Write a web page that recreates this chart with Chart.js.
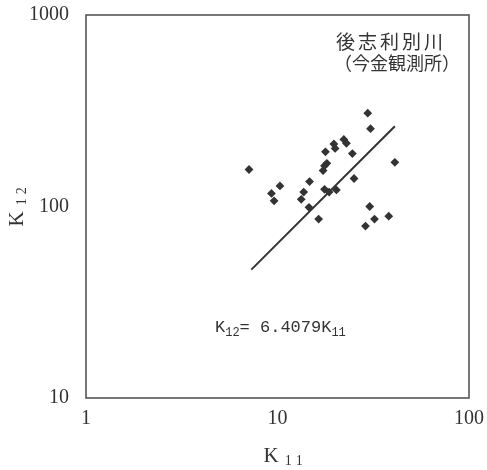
<!DOCTYPE html>
<html>
<head>
<meta charset="utf-8">
<script src="https://cdn.jsdelivr.net/npm/chart.js@4.4.1/dist/chart.umd.min.js"></script>
<style>
html,body{margin:0;padding:0;background:#fff;}
#wrap{width:487px;height:470px;}
</style>
</head>
<body>
<div id="wrap"><canvas id="c"></canvas></div>
<script>
// ===== DATA =====
const k11 = [7.1,17.8,19.7,20.0,22.2,22.9,24.6,18.1,17.6,17.3,14.7,25.1,10.3,9.3,9.6,13.7,13.3,17.6,18.6,20.3,14.6,16.4,29.6,30.6,41.0,30.3,38.1,32.1,28.8];
const k12 = [156,193,212,201,224,214,189,168,163,154,135,140,128,117,107,119,109,123,119,122,99,86,307,255,170,100,89,86,79];
const fitK11 = [7.3, 41];
const fitK12 = [46.8, 262.7];
const xTicks = [1, 10, 100];
const yTicks = [10, 100, 1000];
const stationName = ["後志利別川", "（今金観測所）"];
const equation = ["K", "12", "= 6.4079K", "11"];

const ink = "#333";
const serif = "'Liberation Serif', 'Times New Roman', serif";

/* ================= EXTRA DRAWING ================= */
const extras = {
id: "extras",
afterDraw(chart){
const ctx = chart.ctx;
const a = chart.chartArea;
ctx.save();

// frame
ctx.strokeStyle = "#555";
ctx.lineWidth = 1.6;
ctx.strokeRect(a.left, a.top, a.right - a.left, a.bottom - a.top);

// station name
ctx.fillStyle = ink;
ctx.textAlign = "center";
ctx.textBaseline = "middle";
ctx.font = "19px 'Noto Sans CJK JP'";
ctx.letterSpacing = "3px";
ctx.fillText(stationName[0], a.right - 78, a.top + 27);
ctx.letterSpacing = "0px";
ctx.font = "18px 'Noto Sans CJK JP'";
ctx.fillText(stationName[1], a.right - 72, a.top + 48);

// equation
ctx.textAlign = "left";
ctx.textBaseline = "alphabetic";
let ex = a.left + 129, ey = a.top + 317;
ctx.font = "17px 'Liberation Mono', monospace";
ctx.fillText(equation[0], ex, ey); ex += ctx.measureText(equation[0]).width;
ctx.font = "12px 'Liberation Mono', monospace";
ctx.fillText(equation[1], ex, ey + 4); ex += ctx.measureText(equation[1]).width;
ctx.font = "17px 'Liberation Mono', monospace";
ctx.fillText(equation[2], ex, ey); ex += ctx.measureText(equation[2]).width;
ctx.font = "12px 'Liberation Mono', monospace";
ctx.fillText(equation[3], ex, ey + 4);

// axis titles
function kTitle(sub){
ctx.font = "21px " + serif;
ctx.fillText("K", 0, 0);
let w = ctx.measureText("K").width + 6;
ctx.font = "14px " + serif;
ctx.fillText(sub[0], w, 5);
ctx.fillText(sub[1], w + 11, 5);
}
ctx.textAlign = "left";
ctx.textBaseline = "middle";
ctx.save();
ctx.translate((a.left + a.right) / 2 - 14, 456);
kTitle("11");
ctx.restore();
ctx.save();
ctx.translate(17, (a.top + a.bottom) / 2 + 20);
ctx.rotate(-Math.PI / 2);
kTitle("12");
ctx.restore();

ctx.restore();
}
};

/* ================= CHART ================= */
new Chart(document.getElementById("c"), {
type: "scatter",
data: {
datasets: [
{
label: "data",
data: k11.map((x,i)=>({x:x, y:k12[i]})),
pointStyle: "rectRot",
pointRadius: 4.4,
backgroundColor: ink,
borderColor: ink,
borderWidth: 0
},
{
type: "line",
label: "fit",
data: fitK11.map((x,i)=>({x:x, y:fitK12[i]})),
borderColor: ink,
borderWidth: 2,
pointRadius: 0,
fill: false
}
]
},
plugins: [extras],
options: {
responsive: true,
maintainAspectRatio: false,
animation: false,
layout: { padding: { top: 15, right: 18, left: 0, bottom: 0 } },
plugins: { legend: { display: false }, tooltip: { enabled: false } },
scales: {
x: {
type: "logarithmic",
min: 1, max: 100,
afterFit: s => { s.height = 72; s.paddingLeft = 0; s.paddingRight = 0; },
afterBuildTicks: s => { s.ticks = xTicks.map(v=>({value:v})); },
grid: { display: false, drawTicks: false },
border: { display: false },
ticks: {
color: ink, padding: 9, maxRotation: 0,
font: { family: serif, size: 20 },
callback: v => String(v)
}
},
y: {
type: "logarithmic",
min: 10, max: 1000,
afterFit: s => { s.width = 86; s.paddingTop = 0; s.paddingBottom = 0; },
afterBuildTicks: s => { s.ticks = yTicks.map(v=>({value:v})); },
grid: { display: false, drawTicks: false },
border: { display: false },
ticks: {
color: ink, padding: 17,
font: { family: serif, size: 20 },
callback: v => String(v)
}
}
}
}
});
</script>
</body>
</html>
